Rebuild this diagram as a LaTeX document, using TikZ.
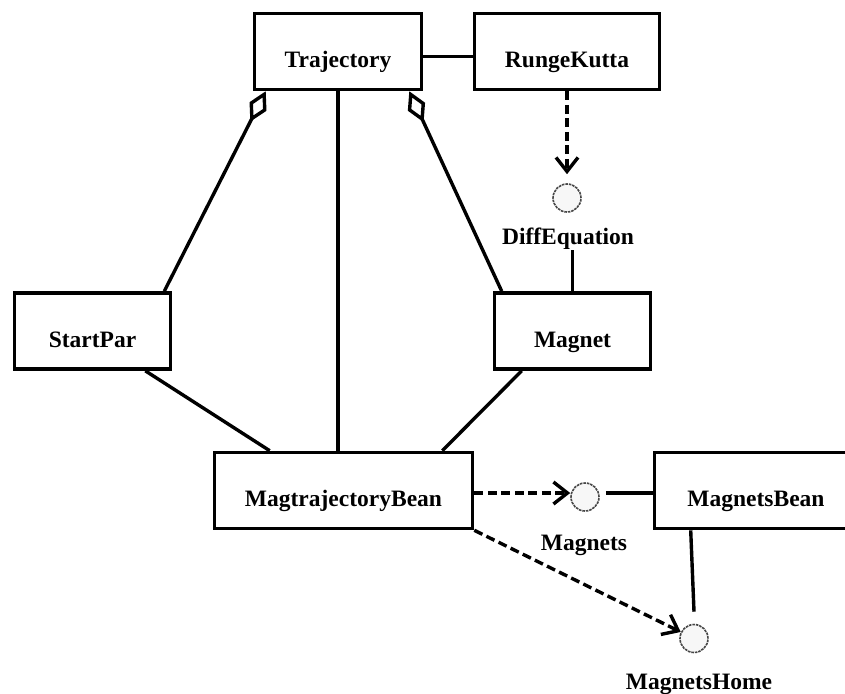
\documentclass[tikz,border=0pt]{standalone}
\usepackage{fontspec}
\setmainfont{Liberation Serif}
\usepackage{tikz}
\usetikzlibrary{arrows.meta, positioning, calc}

\begin{document}
\begin{tikzpicture}[
      x=1pt, y=-1pt,
      font=\fontsize{23.5}{28}\selectfont\bfseries,
      cls/.style={draw, line width=3.6pt, minimum height=76pt, inner sep=0pt,
                  text height=32pt, text depth=0pt},
      iface/.style={circle, draw=gray!55!black, line width=1.6pt,
                    dash pattern=on 2.6pt off 0.9pt, fill=gray!6,
                    minimum size=28pt, inner sep=0pt},
      ilabel/.style={anchor=base, inner sep=1pt},
      assoc/.style={line width=3.4pt},
      agg/.style={line width=3.4pt, -{Diamond[open, length=34pt, width=19pt]}},
      dep/.style={line width=3.4pt, dash pattern=on 9pt off 4.5pt,
                  -{Straight Barb[length=14pt, width=22pt]}},
    ]
    \clip (0,0) rectangle (845,693);

    % --- classes ---
    \node[cls, minimum width=167pt] (traj)   at (338,51.5)  {Trajectory};
    \node[cls, minimum width=185pt] (rk)     at (567,51.5)  {RungeKutta};
    \node[cls, minimum width=156pt] (start)  at (92.5,331)  {StartPar};
    \node[cls, minimum width=156pt] (magnet) at (572.5,331) {Magnet};
    \node[cls, minimum width=258pt] (mtb)    at (343.5,490.5) {MagtrajectoryBean};
    \node[cls, minimum width=203pt] (mbean)  at (756,490.5) {MagnetsBean};

    % --- interfaces (lollipops) ---
    \node[iface] (diff) at (567,198) {};
    \node[ilabel] (diffL) at (568,244) {DiffEquation};
    \node[iface] (mags) at (585,497) {};
    \node[ilabel] (magsL) at (584,550) {Magnets};
    \node[iface] (home) at (694,638.5) {};
    \node[ilabel] (homeL) at (699,689) {MagnetsHome};

    % --- associations ---
    \draw[assoc] ([yshift=-5pt]traj.east) -- ([yshift=-5pt]traj.east -| rk.west);
    \draw[assoc] (traj.south) -- (traj.south |- mtb.north);
    \draw[assoc] ([xshift=-27pt]start.south east) -- ([xshift=57pt]mtb.north west);
    \draw[assoc] ([xshift=29pt]magnet.south west) -- ([xshift=-32pt]mtb.north east);
    \draw[assoc] (diffL.south -| magnet.north) -- (magnet.north);
    \draw[assoc, shorten <=6pt] ([yshift=4pt]mags.east) -- ([yshift=4pt]mags.east -| mbean.west);
    \draw[assoc] ([xshift=38pt]mbean.south west) -- ([yshift=12pt]home.north);

    % --- aggregations (diamond at Trajectory) ---
    \draw[agg] ([xshift=-8pt]start.north east) -- ([xshift=13pt]traj.south west);
    \draw[agg] ([xshift=9pt]magnet.north west) -- ([xshift=-14pt]traj.south east);

    % --- dependencies ---
    \draw[dep, shorten >=9pt] (rk.south) -- (diff.north);
    \draw[dep] ([yshift=-2.5pt]mtb.east) -- ([yshift=-2.5pt]mtb.east -| mags.west);
    \draw[dep] (mtb.south east) -- (home);
  \end{tikzpicture}
\end{document}
